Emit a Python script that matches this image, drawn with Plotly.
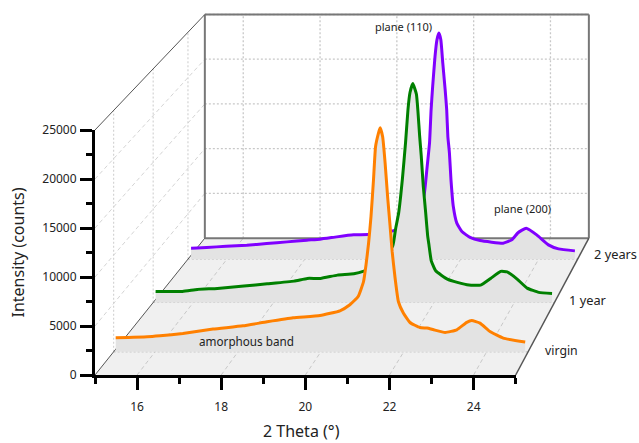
import plotly.graph_objects as go

# ---- data -----------------------------------------------------------------
virgin_x = [15.05,15.81,16.12,16.67,17.40,18.12,18.70,19.33,19.98,20.46,20.70,20.90,21.03,21.09,21.15,21.21,21.27,21.32,21.39,21.43,21.49,21.55,21.61,21.67,21.72,21.79,21.87,21.99,22.15,22.39,22.56,22.72,23.00,23.28,23.52,23.64,23.84,24.08,24.40,24.93]
virgin_y = [1450,1555,1658,1896,2352,2694,3108,3522,3761,4248,4869,5729,7283,9013,11189,14017,17819,21270,22657,23206,22305,19580,16089,13054,10391,7666,5211,4009,3035,2517,2455,2279,1999,2279,3050,3243,2973,2103,1419,1005]
year1_x = [15.06,15.73,16.10,16.60,17.26,17.84,18.51,18.84,19.17,19.59,20.00,20.27,20.47,20.67,20.97,21.04,21.12,21.21,21.29,21.35,21.40,21.47,21.56,21.60,21.64,21.68,21.73,21.79,21.84,21.87,21.93,22.04,22.33,22.58,22.87,23.16,23.41,23.66,23.82,24.07,24.32,24.61,24.94]
year1_y = [1187,1187,1400,1507,1753,1999,2288,2576,2576,2929,3068,3389,3784,4426,6061,7847,9664,13191,17146,20675,22460,23422,22278,20322,17820,15682,12475,9632,7130,6243,4458,3389,2502,2149,1860,1860,2576,3325,3282,2502,1539,1080,973]
year2_x = [15.08,15.48,15.98,16.51,17.02,17.54,18.05,18.39,18.82,19.25,19.63,19.93,20.26,20.57,20.83,21.06,21.13,21.20,21.24,21.28,21.34,21.39,21.44,21.49,21.54,21.60,21.64,21.67,21.71,21.75,21.81,21.90,22.03,22.24,22.50,23.09,23.31,23.47,23.68,23.95,24.25,24.51,24.93]
year2_y = [1212,1278,1433,1543,1719,1906,2094,2204,2457,2678,2711,2898,3119,3670,4331,7086,9841,12816,16453,19021,22326,24166,24905,24166,21599,18697,16486,13510,11714,8739,5797,3967,3042,2402,2050,1763,2127,2910,3416,2678,1576,1135,915]
series_names = ["virgin", "1 year", "2 years"]
series_depth = [0.157, 0.507, 0.834]
series_colors = ["#FF8000", "#008000", "#8000FF"]
x_ticks = [16, 18, 20, 22, 24]
y_ticks = [5000, 10000, 15000, 20000, 25000]

# ---- perspective: front face is the true axes, depth shrinks to a vanishing point
X0, X1, Y0, Y1 = 15, 25, 0, 25000
VPX, VPY, K = 44.95, 160204.0, 0.0955
W, H = 639, 443
LEFT, RIGHT, TOP, BOTTOM = 95.0, 515.7, 130.0, 375.0   # front face in the window
PX_X = (RIGHT - LEFT) / (X1 - X0)
PX_Y = (BOTTOM - TOP) / (Y1 - Y0)


def proj(x, y, z):
    s = 1 / (1 + K * z)
    return VPX + (x - VPX) * s, VPY + (y - VPY) * s


def poly(points, **kw):
    xy = [proj(*p) for p in points]
    return go.Scatter(x=[a for a, _ in xy], y=[b for _, b in xy], mode="lines",
                      hoverinfo="skip", showlegend=False, cliponaxis=False, **kw)


def lines(segments, color, width, dash="solid"):
    xs, ys = [], []
    for p, q in segments:
        a, b = proj(*p), proj(*q)
        xs += [a[0], b[0], None]
        ys += [a[1], b[1], None]
    return go.Scatter(x=xs, y=ys, mode="lines", line=dict(color=color, width=width, dash=dash),
                      hoverinfo="skip", showlegend=False, cliponaxis=False)


GRID = "#c8c8c8"
GRID_LIGHT = "#d4d4d4"
DOT = "2px,2px"
DASH = "4px,3px"
traces = []
# floor
traces.append(poly([(X0, 0, 0), (X1, 0, 0), (X1, 0, 1), (X0, 0, 1), (X0, 0, 0)],
                   fill="toself", fillcolor="#f0f0f0", line=dict(width=0, color="#f0f0f0")))
# back wall grid
traces.append(lines([((X0, v, 1), (X1, v, 1)) for v in y_ticks], GRID, 1.3, DOT))
traces.append(lines([((v, Y0, 1), (v, Y1, 1)) for v in x_ticks], GRID, 1.3, DOT))
# side wall grid
traces.append(lines([((X0, Y0, z), (X0, Y1, z)) for z in series_depth], GRID_LIGHT, 1.2, DOT))
traces.append(lines([((X0, v, 0), (X0, v, 1)) for v in y_ticks[:-1]], GRID_LIGHT, 1, DASH))
# floor grid
traces.append(lines([((v, 0, 0), (v, 0, 1)) for v in x_ticks], GRID, 1, DASH))
traces.append(lines([((X0, 0, z), (X1, 0, z)) for z in series_depth], GRID, 1.2, DOT))
# frame
traces.append(lines([((X0, Y0, 1), (X1, Y0, 1)), ((X0, Y0, 1), (X0, Y1, 1)),
                     ((X0, Y1, 1), (X1, Y1, 1)), ((X1, Y0, 1), (X1, Y1, 1))], "#777777", 2))
traces.append(lines([((X0, Y1, 0), (X0, Y1, 1)), ((X0, 0, 0), (X0, 0, 1))], "#555555", 1))
traces.append(lines([((X1, 0, 0), (X1, 0, 1))], "#555555", 1.5))

curves = [(virgin_x, virgin_y), (year1_x, year1_y), (year2_x, year2_y)]
for i in [2, 1, 0]:
    xs, ys = curves[i]
    z = series_depth[i]
    pts = [(a, b, z) for a, b in zip(xs, ys)]
    traces.append(poly(pts + [(xs[-1], 0, z), (xs[0], 0, z), pts[0]], fill="toself",
                       fillcolor="#e3e3e3", line=dict(width=0, color="#e3e3e3")))
    traces.append(poly(pts, line=dict(color=series_colors[i], width=3, shape="spline", smoothing=0.4),
                       name=series_names[i]))

fig = go.Figure(traces)
# the visible front axes live on x2/y2; an empty trace keeps them drawn
fig.add_trace(go.Scatter(x=[None], y=[None], xaxis="x2", yaxis="y2", showlegend=False, hoverinfo="skip"))


def note(text, px, py, size=11):
    fig.add_annotation(text=text, xref="paper", yref="paper", showarrow=False,
                       x=px / W, y=1 - py / H, xanchor="center", yanchor="middle",
                       font=dict(family="Noto Sans", size=size, color="#222222"))


note("plane (110)", 403.5, 27)
note("plane (200)", 522, 208.5)
note("amorphous band", 246.5, 341, 11.7)
note(series_names[0], 561.7, 350, 12.3)
note(series_names[1], 588, 300, 12.8)
note(series_names[2], 615.7, 254, 12.8)
note("2 Theta (°)", 301, 431, 16)

AX = dict(showgrid=False, zeroline=False, showline=True, linecolor="black", linewidth=3,
          ticks="outside", tickcolor="black", tickwidth=3, ticklen=12, automargin=False,
          tickfont=dict(family="Noto Sans", size=12, color="#222222"))
fig.update_layout(
    width=W, height=H, autosize=False, margin=dict(l=0, r=0, t=0, b=0),
    paper_bgcolor="white", plot_bgcolor="rgba(0,0,0,0)", showlegend=False,
    # full-window hidden axes, same units as the front axes
    xaxis=dict(visible=False, domain=[0, 1],
               range=[X0 - LEFT / PX_X, X0 + (W - LEFT) / PX_X]),
    yaxis=dict(visible=False, domain=[0, 1],
               range=[Y0 - (H - BOTTOM) / PX_Y, Y0 + BOTTOM / PX_Y]),
    xaxis2=dict(AX, anchor="y2", domain=[LEFT / W, RIGHT / W], range=[X0, X1],
                tick0=16, dtick=2, ticklabelstandoff=7,
                minor=dict(tick0=15, dtick=1, ticks="outside", ticklen=6, tickwidth=3, tickcolor="black")),
    yaxis2=dict(AX, anchor="x2", domain=[1 - BOTTOM / H, 1 - TOP / H], range=[Y0, Y1],
                tick0=0, dtick=5000, tickformat="d", ticklabelstandoff=1,
                minor=dict(tick0=0, dtick=2500, ticks="outside", ticklen=6, tickwidth=3, tickcolor="black"),
                title=dict(text="Intensity (counts)", standoff=14,
                           font=dict(family="Noto Sans", size=16, color="#222222"))),
)
fig.write_html("out.html", config={"displayModeBar": False},
               post_script="document.body.style.margin='0';document.body.style.overflow='hidden';")
